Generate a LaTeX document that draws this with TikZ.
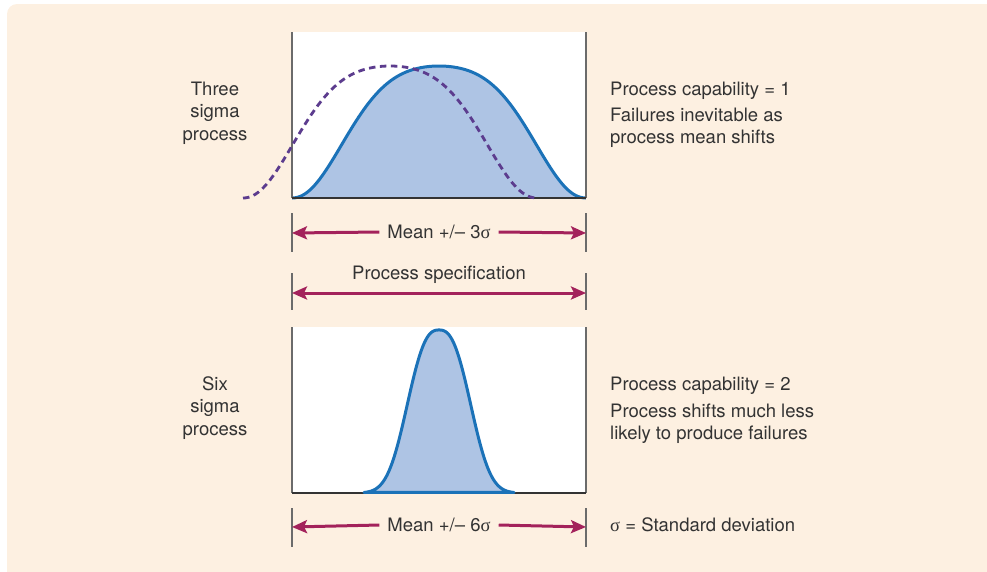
\documentclass[tikz,border=0pt]{standalone}
\usepackage{fontspec}
\setmainfont{TeX Gyre Heros}
\newfontfamily\sigmafont{Liberation Serif}
\usetikzlibrary{calc, positioning}
\usetikzlibrary{arrows.meta}

\definecolor{panelbg}{HTML}{FDF0E1}
\definecolor{curveblue}{HTML}{1B72B8}
\definecolor{fillblue}{HTML}{AEC4E4}
\definecolor{shiftpurple}{HTML}{5C3C8E}
\definecolor{dimred}{HTML}{A3225B}
\definecolor{axisgray}{HTML}{6B6B6B}
\definecolor{txtgray}{HTML}{333333}

\newcommand{\sig}{{\sigmafont σ}}

% bell shapes, u runs from -1 to 1
\pgfmathdeclarefunction{wideshape}{1}{%
  \pgfmathparse{1+((#1)*(#1))*(-0.78+((#1)*(#1))*(-2.76+((#1)*(#1))*(3.859-1.319*((#1)*(#1)))))}}
\pgfmathdeclarefunction{narrowshape}{1}{%
  \pgfmathparse{exp(-1*pow((abs(#1)+0.0001)/0.511,2.6))}}

\tikzset{
  lab/.style={font=\fontsize{18.5}{22.5}\selectfont, text=txtgray, inner sep=0pt},
  dimlab/.style={lab, inner xsep=8pt},
  dimarrow/.style={draw=dimred, line width=3pt, -{Stealth[length=15pt, width=13pt, inset=3pt]}},
  tickline/.style={draw=axisgray, line width=2pt},
  boxside/.style={draw=axisgray, line width=2.5pt},
  baseline/.style={draw=black!80, line width=2pt},
  curvefill/.style={fill=fillblue},
  curveline/.style={draw=curveblue, line width=3pt, line join=round},
  shiftcurve/.style={draw=shiftpurple, line width=2.8pt, dash pattern=on 6.5pt off 4.5pt}
}

\begin{document}
\begin{tikzpicture}[x=1pt, y=-1pt]
\useasboundingbox (0,0) rectangle (987,571);
\fill[panelbg, rounded corners=10pt] (7,4) rectangle (1000,590);

% three sigma panel
\coordinate (TL) at (292,32);
\coordinate (TR) at (586,32);
\coordinate (BL) at (292,198);
\coordinate (BR) at (586,198);
\fill[white] (TL) rectangle (BR);
\fill[curvefill] plot[domain=292:586, samples=120, variable=\xx]
  ({\xx}, {198-132*wideshape((\xx-439)/147)}) -- cycle;
\draw[curveline] plot[domain=292:586, samples=120, variable=\xx]
  ({\xx}, {198-132*wideshape((\xx-439)/147)});
\draw[boxside] (TL) -- (BL);
\draw[boxside] (TR) -- (BR);
\draw[baseline] (BL) -- (BR);
\draw[shiftcurve] plot[domain=243:537, samples=120, variable=\xx]
  ({\xx}, {198-132*wideshape((\xx-390)/147)});

% six sigma panel
\coordinate (SL) at (292,327);
\coordinate (SR) at (586,327);
\coordinate (SBL) at (292,493);
\coordinate (SBR) at (586,493);
\fill[white] (SL) rectangle (SBR);
\draw[boxside] (SL) -- (SBL);
\draw[boxside] (SR) -- (SBR);
\draw[baseline] (SBL) -- (SBR);
\filldraw[curvefill, curveline] plot[domain=364:514, samples=120, variable=\xx]
  ({\xx}, {493-163*narrowshape((\xx-439)/75)}) -- cycle;

% dimension arrows
\foreach \ya/\yb in {213/252, 273/310, 508/547} {
  \draw[tickline] (292,\ya) -- (292,\yb);
  \draw[tickline] (586,\ya) -- (586,\yb);
}
\coordinate (A3l) at (292,233);
\coordinate (A3r) at (586,233);
\node[dimlab] (m3) at (439,232) {Mean +/– 3\sig};
\draw[dimarrow] (m3.west) -- (A3l);
\draw[dimarrow] (m3.east) -- (A3r);

\coordinate (PSl) at (292,293);
\coordinate (PSr) at (586,293);
\node[lab] (spec) at (439,275) {Process specification};
\draw[dimarrow, {Stealth[length=15pt, width=13pt, inset=3pt]}-{Stealth[length=15pt, width=13pt, inset=3pt]}] (PSl) -- (PSr);

\coordinate (A6l) at (292,527);
\coordinate (A6r) at (586,527);
\node[dimlab] (m6) at (439,525) {Mean +/– 6\sig};
\draw[dimarrow] (m6.west) -- (A6l);
\draw[dimarrow] (m6.east) -- (A6r);

% side labels
\node[lab, align=center] (three) at (215,113) {Three\\sigma\\process};
\node[lab, align=center] (six) at (215,408) {Six\\sigma\\process};

\node[lab, anchor=west] (cap1) at (610,91) {Process capability = 1};
\node[lab, anchor=west, align=left] (fail1) at (610,128) {Failures inevitable as\\process mean shifts};
\node[lab, anchor=west] (cap2) at (610,386) {Process capability = 2};
\node[lab, anchor=west, align=left] (fail2) at (610,423.5) {Process shifts much less\\likely to produce failures};
\node[lab, anchor=west] (sdev) at (610,525) {\sig{} = Standard deviation};
\end{tikzpicture}
\end{document}
